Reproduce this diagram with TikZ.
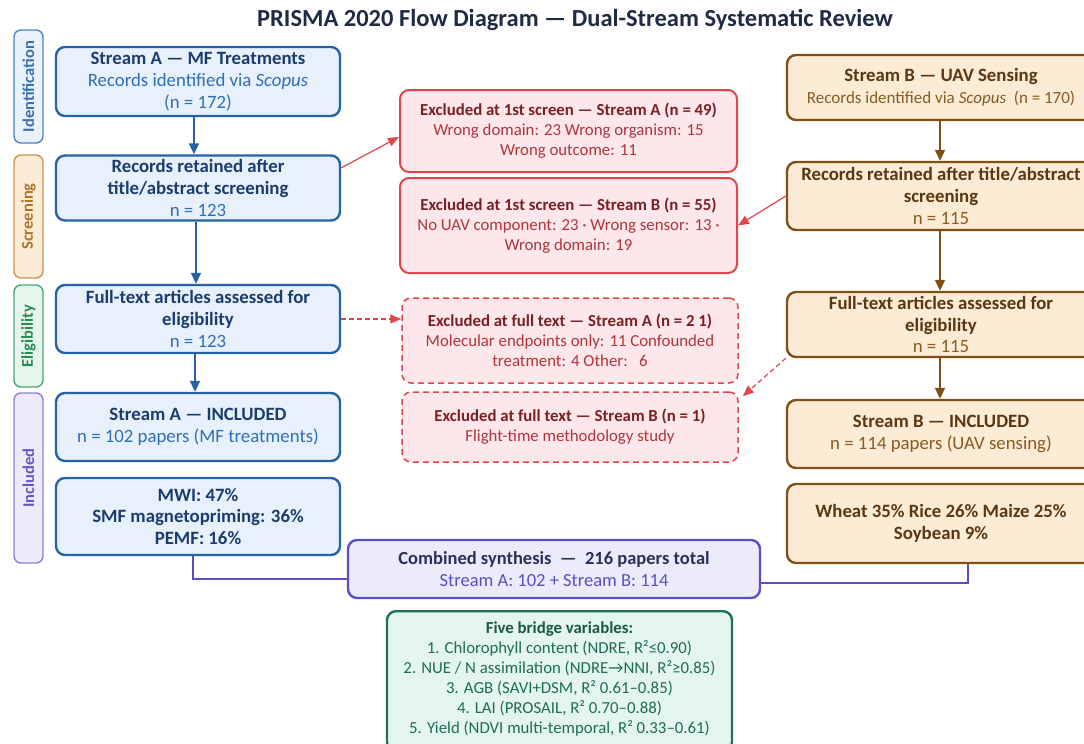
\documentclass[tikz,border=0pt]{standalone}
\usepackage{fontspec}
\setmainfont{Carlito}
\usetikzlibrary{arrows.meta,calc}
\definecolor{titlec}{HTML}{1F2A44}
\definecolor{afill}{HTML}{E8F1FB}
\definecolor{aline}{HTML}{2563A6}
\definecolor{adark}{HTML}{1A3D6E}
\definecolor{abody}{HTML}{2F6FB5}
\definecolor{rfill}{HTML}{FDE7EA}
\definecolor{rline}{HTML}{E0474C}
\definecolor{rdark}{HTML}{7A1F24}
\definecolor{rbody}{HTML}{B0353A}
\definecolor{ofill}{HTML}{FCEBD5}
\definecolor{oline}{HTML}{7F4F14}
\definecolor{odark}{HTML}{5B3712}
\definecolor{obody}{HTML}{8A5A1E}
\definecolor{lfill}{HTML}{ECEBFB}
\definecolor{lline}{HTML}{5B4EC4}
\definecolor{ldark}{HTML}{2B2F5A}
\definecolor{gfill}{HTML}{E4F4EE}
\definecolor{gline}{HTML}{1F7355}
\definecolor{gdark}{HTML}{1A5A42}
\definecolor{gbody}{HTML}{1E6E50}
\definecolor{pidf}{HTML}{E9F2FB}\definecolor{pidl}{HTML}{4A86C8}\definecolor{pidt}{HTML}{3A70B0}
\definecolor{pscf}{HTML}{FBECD8}\definecolor{pscl}{HTML}{C99550}\definecolor{psct}{HTML}{B07528}
\definecolor{pelf}{HTML}{E5F5EC}\definecolor{pell}{HTML}{4AA874}\definecolor{pelt}{HTML}{2E8A55}
\definecolor{pinf}{HTML}{EEEAFC}\definecolor{pinl}{HTML}{8F7FD8}\definecolor{pint}{HTML}{6A55C8}
\begin{document}
\begin{tikzpicture}[x=1pt,y=-1pt,
  basebox/.style={rounded corners=9pt, align=center, inner sep=0pt, line width=2.4pt},
  abox/.style={basebox, draw=aline, fill=afill, text=adark, font=\fontsize{18.8}{21.8}\selectfont},
  obox/.style={basebox, draw=oline, fill=ofill, text=odark, font=\fontsize{18.8}{21.8}\selectfont},
  rbox/.style={basebox, draw=rline, fill=rfill, text=rdark, font=\fontsize{16.8}{20}\selectfont, line width=2pt},
  rdbox/.style={rbox, line width=1.5pt, dash pattern=on 6pt off 4pt},
  phase/.style={rounded corners=7pt, line width=1.4pt, rotate=90, inner sep=0pt, font=\bfseries\fontsize{16.5}{18}\selectfont, minimum height=29pt},
  flowA/.style={draw=aline, line width=2pt, -{Triangle[length=11pt,width=10pt]}},
  flowB/.style={draw=oline, line width=2pt, -{Triangle[length=11pt,width=10pt]}},
  excl/.style={draw=rline, line width=1.2pt, -{Triangle[length=11pt,width=9pt]}},
  excld/.style={excl, dash pattern=on 5pt off 3pt},
  joinl/.style={draw=lline, line width=1.6pt}
]
\useasboundingbox (0,0) rectangle (1084,744);
\clip (0,0) rectangle (1084,744);

\node[font=\bfseries\fontsize{24.5}{28}\selectfont, text=titlec] (title) at (575,20) {PRISMA 2020 Flow Diagram — Dual-Stream Systematic Review};

% phase labels
\node[phase, draw=pidl, fill=pidf, text=pidt, minimum width=113pt] (pid) at (28.5,86.5) {Identification};
\node[phase, draw=pscl, fill=pscf, text=psct, minimum width=123pt] (psc) at (28.5,216.5) {Screening};
\node[phase, draw=pell, fill=pelf, text=pelt, minimum width=102pt] (pel) at (28.5,336) {Eligibility};
\node[phase, draw=pinl, fill=pinf, text=pint, minimum width=170pt] (pin) at (28.5,478) {Included};

% stream A
\node[abox, minimum width=284pt, minimum height=69pt] (a1) at (198,81.5)
  {\textbf{Stream A — MF Treatments}\\ \textcolor{abody}{Records identified via \textit{Scopus}}\\ \textcolor{abody}{(n = 172)}};
\node[abox, minimum width=284pt, minimum height=65pt] (a2) at (198,188)
  {\textbf{Records retained after}\\ \textbf{title/abstract screening}\\ \textcolor{abody}{n = 123}};
\node[abox, minimum width=284pt, minimum height=68pt] (a3) at (198,319)
  {\textbf{Full-text articles assessed for}\\ \textbf{eligibility}\\ \textcolor{abody}{n = 123}};
\node[abox, minimum width=284pt, minimum height=68pt] (a4) at (198,427)
  {\textbf{Stream A — INCLUDED}\\ \textcolor{abody}{n = 102 papers (MF treatments)}};
\node[abox, minimum width=284pt, minimum height=77pt] (a5) at (198,516.5)
  {\textbf{MWI: 47\%}\\ \textbf{SMF magnetopriming: 36\%}\\ \textbf{PEMF: 16\%}};

% stream B
\node[obox, minimum width=308pt, minimum height=65pt] (b1) at (941,87.5)
  {\textbf{Stream B — UAV Sensing}\\ \textcolor{obody}{\fontsize{17}{21}\selectfont Records identified via \textit{Scopus}\ \ (n = 170)}};
\node[obox, minimum width=308pt, minimum height=68pt] (b2) at (941,196)
  {\textbf{Records retained after title/abstract}\\ \textbf{screening}\\ \textcolor{obody}{n = 115}};
\node[obox, minimum width=308pt, minimum height=65pt] (b3) at (941,324.5)
  {\textbf{Full-text articles assessed for}\\ \textbf{eligibility}\\ \textcolor{obody}{n = 115}};
\node[obox, minimum width=308pt, minimum height=68pt] (b4) at (941,434)
  {\textbf{Stream B — INCLUDED}\\ \textcolor{obody}{n = 114 papers (UAV sensing)}};
\node[obox, minimum width=308pt, minimum height=79pt] (b5) at (941,523.5)
  {\textbf{Wheat 35\% Rice 26\% Maize 25\%}\\ \textbf{Soybean 9\%}};

% exclusions
\node[rbox, minimum width=337pt, minimum height=82pt] (x1) at (568.5,131)
  {\textbf{Excluded at 1st screen — Stream A (n = 49)}\\ \textcolor{rbody}{Wrong domain: 23 Wrong organism: 15}\\ \textcolor{rbody}{Wrong outcome: 11}};
\node[rbox, minimum width=337pt, minimum height=95pt] (x2) at (568.5,225.5)
  {\textbf{Excluded at 1st screen — Stream B (n = 55)}\\ \textcolor{rbody}{No UAV component: 23 · Wrong sensor: 13 ·}\\ \textcolor{rbody}{Wrong domain: 19}};
\node[rdbox, minimum width=336pt, minimum height=85pt] (x3) at (570,340.5)
  {\textbf{Excluded at full text — Stream A (n = 2 1)}\\ \textcolor{rbody}{Molecular endpoints only: 11 Confounded}\\ \textcolor{rbody}{treatment: 4 Other:\ \ \ 6}};
\node[rdbox, minimum width=336pt, minimum height=70pt] (x4) at (570,427)
  {\textbf{Excluded at full text — Stream B (n = 1)}\\ \textcolor{rbody}{Flight-time methodology study}};

% combined + bridge
\node[basebox, draw=lline, fill=lfill, text=ldark, minimum width=412pt, minimum height=58pt, font=\fontsize{18.5}{22}\selectfont] (comb) at (554,569)
  {\textbf{Combined synthesis\ \ —\ \ 216 papers total}\\ \textcolor{lline}{Stream A: 102 + Stream B: 114}};
\node[basebox, draw=gline, fill=gfill, text=gbody, minimum width=345pt, minimum height=140pt, anchor=north] (bridge) at (559.5,610) {};
\node[text=gbody, align=center, font=\fontsize{16.8}{20}\selectfont, anchor=north, inner sep=0pt] (btext) at (559.5,622)
  {\textcolor{gdark}{\textbf{Five bridge variables:}}\\
   1. Chlorophyll content (NDRE, R²≤0.90)\\
   2. NUE / N assimilation (NDRE→NNI, R²≥0.85)\\
   3. AGB (SAVI+DSM, R² 0.61–0.85)\\
   4. LAI (PROSAIL, R² 0.70–0.88)\\
   5. Yield (NDVI multi-temporal, R² 0.33–0.61)};

% flows
\draw[flowA] (a1.south -| 194,0) -- (a2.north -| 194,0);
\draw[flowA] (a2.south -| 196,0) -- (a3.north -| 196,0);
\draw[flowA] (a3.south -| 195,0) -- (a4.north -| 195,0);
\draw[flowB] (b1.south -| 940,0) -- (b2.north -| 940,0);
\draw[flowB] (b2.south -| 940,0) -- (b3.north -| 940,0);
\draw[flowB] (b3.south -| 940,0) -- (b4.north -| 940,0);

\draw[excl] (a2.8) -- (x1.182);
\draw[excl] (b2.west) -- (x2.east);
\draw[excld] (a3.east) -- (a3.east -| x3.west);
\draw[excld] (b3.south west) -- ($(x4.north east)+(4,5)$);

\draw[joinl] (a5.south -| 193,0) |- ($(comb.west)+(0,10)$);
\draw[joinl] (b5.south -| 968,0) |- ($(comb.east)+(0,14)$);
\end{tikzpicture}
\end{document}
